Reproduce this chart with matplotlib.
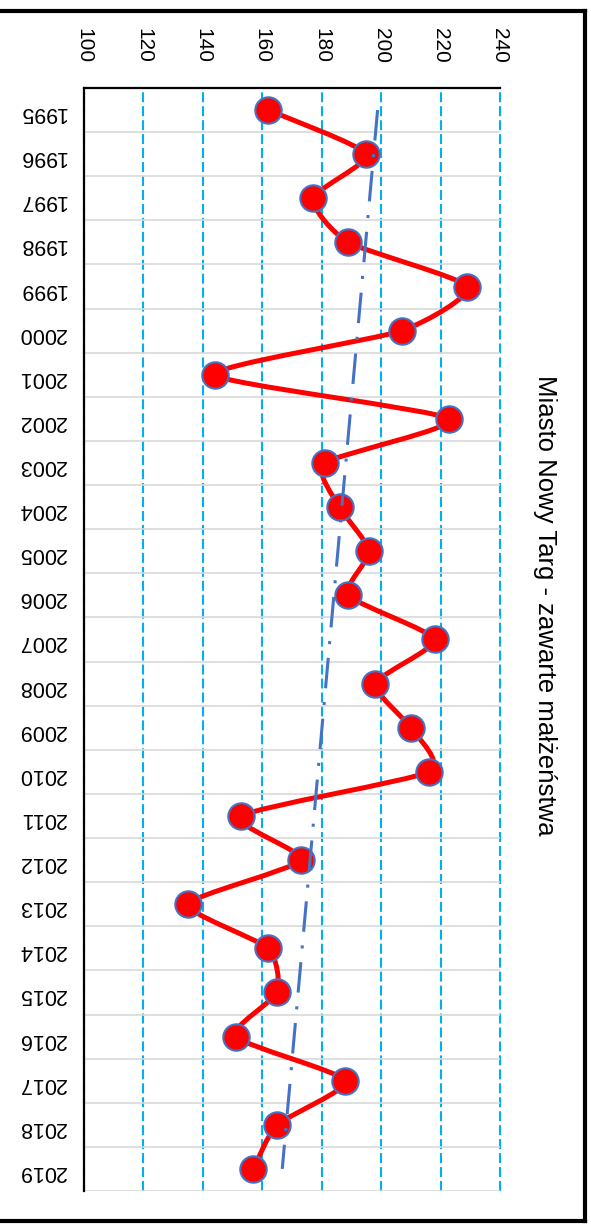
import numpy as np
import matplotlib
matplotlib.use("Agg")
import matplotlib.pyplot as plt
from matplotlib.path import Path
from matplotlib.patches import PathPatch
from matplotlib.lines import Line2D

years = [str(y) for y in range(1995, 2020)]
values = [162, 195, 177, 189, 229, 207, 144, 223, 181, 186, 196, 189, 218,
          198, 210, 216, 153, 173, 135, 162, 165, 151, 188, 165, 157]
value_ticks = [100, 120, 140, 160, 180, 200, 220, 240]
title = "Miasto Nowy Targ - zawarte małżeństwa"

plt.rcParams['font.family'] = ['Liberation Sans', 'DejaVu Sans']

W, H = 591, 1224
fig = plt.figure(figsize=(W / 100, H / 100), dpi=100)
ax = fig.add_axes([84 / W, 33 / H, (500 - 84) / W, (1136 - 33) / H])

n = len(values)
idx = np.arange(n)
xv = np.array(values, dtype=float)

# lightly smoothed line (cubic Bezier through the data points)
tension = 1.0 / 10.0
pts = np.column_stack([xv, idx])
verts = [tuple(pts[0])]
codes = [Path.MOVETO]
for i in range(n - 1):
    p0 = pts[max(i - 1, 0)]
    p1 = pts[i]
    p2 = pts[i + 1]
    p3 = pts[min(i + 2, n - 1)]
    c1 = p1 + (p2 - p0) * tension
    c2 = p2 - (p3 - p1) * tension
    verts += [tuple(c1), tuple(c2), tuple(p2)]
    codes += [Path.CURVE4] * 3
ax.add_patch(PathPatch(Path(verts, codes), facecolor='none', edgecolor='#FF0000',
                       lw=3.6, zorder=3, capstyle='round', joinstyle='round'))

ax.plot(xv, idx, linestyle='none', marker='o', markersize=19,
        markerfacecolor='#FF0000', markeredgecolor='#4472C4',
        markeredgewidth=1.5, zorder=4)

# linear trend
coef = np.polyfit(idx, xv, 1)
trend = np.polyval(coef, idx[[0, -1]])
ax.plot(trend, idx[[0, -1]], color='#4472C4', lw=2.2,
        linestyle=(0, (10, 4.5, 1.0, 4.5)), zorder=5)

ax.set_xlim(100, 240)
ax.set_ylim(n - 0.5, -0.5)
ax.set_xticks(value_ticks)
ax.set_xticklabels([str(v) for v in value_ticks], rotation=-90, fontsize=15)
ax.xaxis.tick_top()
ax.tick_params(axis='x', length=0, pad=18)
for lab in ax.get_xticklabels():
    lab.set_va('bottom')
    lab.set_ha('center')

ax.set_yticks(idx)
ax.set_yticklabels(years, rotation=180, fontsize=15.5)
ax.tick_params(axis='y', length=0, pad=13)
ax.set_yticks(np.arange(-0.5, n, 1.0), minor=True)
ax.tick_params(axis='y', which='minor', length=0)

ax.grid(which='minor', axis='y', color='#D9D9D9', lw=1.2, zorder=1)
ax.grid(which='major', axis='y', visible=False)
ax.grid(which='major', axis='x', color='#00B0F0', lw=1.5,
        linestyle=(0, (4.8, 1.9)), zorder=1.5)
for gl in ax.get_xgridlines():
    gl.set_clip_on(False)
ax.set_axisbelow(True)

for s in ['right', 'bottom']:
    ax.spines[s].set_visible(False)
for s in ['left', 'top']:
    ax.spines[s].set_color('black')
    ax.spines[s].set_linewidth(1.6)
    ax.spines[s].set_zorder(2)

fig.text(545 / W, 1 - 605 / H, title, rotation=-90, fontsize=18.5,
         ha='center', va='center')

# outer border
fig.add_artist(Line2D([0, 585 / W], [1 - 11 / H] * 2, color='black', lw=3,
                      transform=fig.transFigure))
fig.add_artist(Line2D([585 / W] * 2, [1 - 11 / H, 1 - 1220.5 / H], color='black', lw=3,
                      transform=fig.transFigure))
fig.add_artist(Line2D([0, 585 / W], [1 - 1220.5 / H] * 2, color='black', lw=3,
                      transform=fig.transFigure))

fig.savefig("out.png", dpi=100)
